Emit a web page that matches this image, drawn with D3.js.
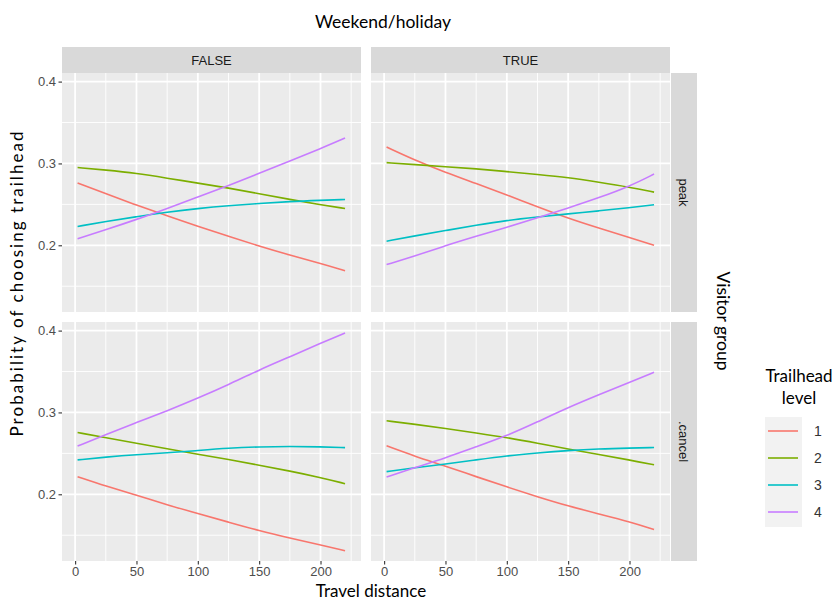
<!DOCTYPE html>
<html><head><meta charset="utf-8">
<script src="https://cdn.jsdelivr.net/npm/d3@7"></script>
<style>body{margin:0;background:#fff}svg{display:block}</style>
</head><body><svg id="c" width="837" height="603"></svg>
<script>
// ---- data ----
const weekendValues = ["FALSE", "TRUE"];
const visitorGroups = ["peak", ".cancel"];
const levels = ["1", "2", "3", "4"];
const levelColors = ["#F8766D", "#7CAE00", "#00BFC4", "#C77CFF"];
const xTicks = [0, 50, 100, 150, 200];
const yTicks = [0.2, 0.3, 0.4];
const distance = [2, 25, 50, 75, 100, 125, 150, 175, 200, 220];

// peak, FALSE
const peakFalse1 = [0.276, 0.263, 0.249, 0.236, 0.223, 0.211, 0.199, 0.188, 0.178, 0.169];
const peakFalse2 = [0.295, 0.292, 0.288, 0.282, 0.276, 0.270, 0.263, 0.256, 0.2495, 0.245];
const peakFalse3 = [0.223, 0.229, 0.235, 0.2405, 0.245, 0.2485, 0.251, 0.2535, 0.255, 0.256];
const peakFalse4 = [0.208, 0.219, 0.2315, 0.245, 0.259, 0.273, 0.288, 0.303, 0.318, 0.331];
// peak, TRUE
const peakTrue1 = [0.320, 0.304, 0.289, 0.2755, 0.2615, 0.247, 0.233, 0.221, 0.2095, 0.200];
const peakTrue2 = [0.301, 0.2985, 0.296, 0.2935, 0.290, 0.2865, 0.2828, 0.277, 0.271, 0.265];
const peakTrue3 = [0.205, 0.2115, 0.218, 0.2245, 0.2305, 0.2345, 0.2385, 0.242, 0.246, 0.2495];
const peakTrue4 = [0.1764, 0.187, 0.1995, 0.211, 0.222, 0.2335, 0.2455, 0.258, 0.272, 0.287];
// cancel, FALSE
const cancelFalse1 = [0.2215, 0.210, 0.199, 0.187, 0.1765, 0.166, 0.1555, 0.1465, 0.138, 0.131];
const cancelFalse2 = [0.2755, 0.269, 0.2625, 0.2555, 0.249, 0.2425, 0.2355, 0.2285, 0.2205, 0.213];
const cancelFalse3 = [0.242, 0.2455, 0.2485, 0.2505, 0.2535, 0.2565, 0.258, 0.2585, 0.258, 0.257];
const cancelFalse4 = [0.259, 0.2727, 0.2877, 0.302, 0.3175, 0.334, 0.352, 0.368, 0.3845, 0.397];
// cancel, TRUE
const cancelTrue1 = [0.2592, 0.2465, 0.2345, 0.2215, 0.209, 0.197, 0.1857, 0.176, 0.1665, 0.157];
const cancelTrue2 = [0.2898, 0.2855, 0.2805, 0.275, 0.2694, 0.2625, 0.2551, 0.2485, 0.242, 0.236];
const cancelTrue3 = [0.2277, 0.2325, 0.237, 0.242, 0.247, 0.2505, 0.2535, 0.2555, 0.2565, 0.2571];
const cancelTrue4 = [0.2212, 0.2325, 0.2445, 0.258, 0.2714, 0.2885, 0.306, 0.3215, 0.337, 0.349];

const panelSeries = [
  [[peakFalse1, peakFalse2, peakFalse3, peakFalse4], [peakTrue1, peakTrue2, peakTrue3, peakTrue4]],
  [[cancelFalse1, cancelFalse2, cancelFalse3, cancelFalse4], [cancelTrue1, cancelTrue2, cancelTrue3, cancelTrue4]]
];

// ---- layout ----
const svg = d3.select("#c");
const colX = [62, 371], panelW = 299;
const rowY = [73, 322], panelH = 239;
const stripH = 26, stripW = 26;
const tickFont = "'Liberation Sans', Arial, sans-serif";
const titleFont = "Lato, 'Open Sans', sans-serif";

const x = d3.scaleLinear().domain([-10.7, 233]).range([0, panelW]);
const y = d3.scaleLinear().domain([0.1185, 0.4105]).range([panelH, 0]);
const xMinor = [25, 75, 125, 175, 225];
const yMinor = [0.15, 0.25, 0.35];

const line = d3.line().x((d, i) => x(distance[i])).y(d => y(d)).curve(d3.curveBasis);

rowY.forEach((py, r) => {
  colX.forEach((px, c) => {
    const g = svg.append("g").attr("transform", `translate(${px},${py})`);
    g.append("rect").attr("width", panelW).attr("height", panelH).attr("fill", "#ebebeb");
    g.selectAll(".vmin").data(xMinor).join("line")
      .attr("x1", d => x(d)).attr("x2", d => x(d)).attr("y1", 0).attr("y2", panelH)
      .attr("stroke", "#fff").attr("stroke-width", 0.9);
    g.selectAll(".hmin").data(yMinor).join("line")
      .attr("y1", d => y(d)).attr("y2", d => y(d)).attr("x1", 0).attr("x2", panelW)
      .attr("stroke", "#fff").attr("stroke-width", 0.9);
    g.selectAll(".vmaj").data(xTicks).join("line")
      .attr("x1", d => x(d)).attr("x2", d => x(d)).attr("y1", 0).attr("y2", panelH)
      .attr("stroke", "#fff").attr("stroke-width", 1.8);
    g.selectAll(".hmaj").data(yTicks).join("line")
      .attr("y1", d => y(d)).attr("y2", d => y(d)).attr("x1", 0).attr("x2", panelW)
      .attr("stroke", "#fff").attr("stroke-width", 1.8);
    panelSeries[r][c].forEach((vals, k) => {
      g.append("path").datum(vals).attr("d", line).attr("fill", "none")
        .attr("stroke", levelColors[k]).attr("stroke-width", 1.6);
    });
    if (r === 1) {
      const ax = svg.append("g").attr("transform", `translate(${px},${py + panelH})`)
        .call(d3.axisBottom(x).tickValues(xTicks).tickSize(3.5).tickPadding(2.5).tickFormat(d3.format("d")));
      ax.select(".domain").remove();
      ax.selectAll("line").attr("stroke", "#333").attr("stroke-width", 1.1);
      ax.selectAll("text").attr("fill", "#4d4d4d").style("font-family", tickFont).style("font-size", "13px");
    }
    if (c === 0) {
      const ay = svg.append("g").attr("transform", `translate(${px},${py})`)
        .call(d3.axisLeft(y).tickValues(yTicks).tickSize(3.5).tickPadding(2.5).tickFormat(d3.format(".1f")));
      ay.select(".domain").remove();
      ay.selectAll("line").attr("stroke", "#333").attr("stroke-width", 1.1);
      ay.selectAll("text").attr("fill", "#4d4d4d").style("font-family", tickFont).style("font-size", "13px");
    }
  });
});

// top strips
colX.forEach((px, c) => {
  svg.append("rect").attr("x", px).attr("y", rowY[0] - stripH).attr("width", panelW).attr("height", stripH).attr("fill", "#d9d9d9");
  svg.append("text").attr("x", px + panelW / 2).attr("y", rowY[0] - stripH / 2).attr("dy", "0.35em")
    .attr("text-anchor", "middle").attr("fill", "#1a1a1a").style("font-family", tickFont).style("font-size", "13px")
    .text(weekendValues[c]);
});
// right strips
rowY.forEach((py, r) => {
  const sx = colX[1] + panelW + 1;
  svg.append("rect").attr("x", sx).attr("y", py).attr("width", stripW).attr("height", panelH).attr("fill", "#d9d9d9");
  svg.append("text").attr("transform", `translate(${sx + stripW / 2},${py + panelH / 2}) rotate(90)`)
    .attr("dy", "0.35em").attr("text-anchor", "middle").attr("fill", "#1a1a1a")
    .style("font-family", tickFont).style("font-size", "13px").text(visitorGroups[r]);
});

// titles
svg.append("text").attr("x", 383).attr("y", 22).attr("dy", "0.35em").attr("text-anchor", "middle")
  .style("font-family", titleFont).style("font-size", "17.5px").attr("fill", "#000").text("Weekend/holiday");
svg.append("text").attr("x", 371).attr("y", 597).attr("text-anchor", "middle")
  .style("font-family", titleFont).style("font-size", "17px").attr("fill", "#000").text("Travel distance");
svg.append("text").attr("transform", "translate(17,284) rotate(-90)").attr("dy", "0.35em").attr("text-anchor", "middle")
  .attr("textLength", 305).attr("lengthAdjust", "spacing")
  .style("font-family", titleFont).style("font-size", "17px").attr("fill", "#000").text("Probability of choosing trailhead");
svg.append("text").attr("transform", "translate(723,321) rotate(90)").attr("dy", "0.35em").attr("text-anchor", "middle")
  .style("font-family", titleFont).style("font-size", "17.5px").attr("fill", "#000").text("Visitor group");

// legend
const lg = svg.append("g");
lg.append("text").attr("x", 799).attr("y", 376).attr("dy", "0.35em").attr("text-anchor", "middle")
  .style("font-family", titleFont).style("font-size", "17px").text("Trailhead");
lg.append("text").attr("x", 799).attr("y", 398).attr("dy", "0.35em").attr("text-anchor", "middle")
  .style("font-family", titleFont).style("font-size", "17px").text("level");
lg.append("rect").attr("x", 765).attr("y", 417).attr("width", 37).attr("height", 110).attr("fill", "#f2f2f2");
levels.forEach((lv, i) => {
  const ly = 431 + i * 27;
  lg.append("line").attr("x1", 768).attr("x2", 798).attr("y1", ly).attr("y2", ly)
    .attr("stroke", levelColors[i]).attr("stroke-width", 1.6);
  lg.append("text").attr("x", 818).attr("y", ly).attr("dy", "0.35em").attr("text-anchor", "middle")
    .attr("fill", "#333").style("font-family", tickFont).style("font-size", "14px").text(lv);
});
</script></body></html>
